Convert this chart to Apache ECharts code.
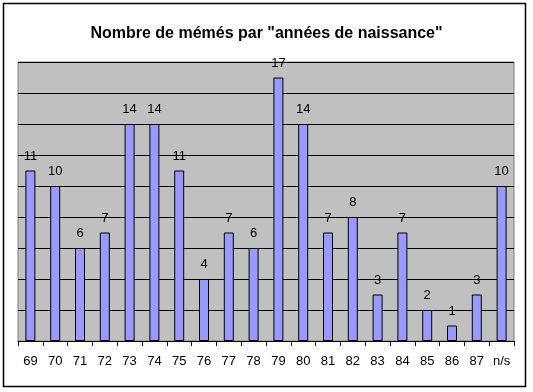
<!DOCTYPE html>
<html>
<head>
<meta charset="utf-8">
<script src="https://cdn.jsdelivr.net/npm/echarts@6/dist/echarts.min.js"></script>
<style>
html,body{margin:0;padding:0;background:#fff;}
#c{width:533px;height:392px;}
</style>
</head>
<body>
<div id="c"></div>
<script>
const titleText = 'Nombre de mémés par "années de naissance"';
const categories = ['69','70','71','72','73','74','75','76','77','78','79','80','81','82','83','84','85','86','87','n/s'];
const counts = [11,10,6,7,14,14,11,4,7,6,17,14,7,8,3,7,2,1,3,10];
const yMax = 18;
const yInterval = 2;

const chart = echarts.init(document.getElementById('c'));
chart.setOption({
  animation: false,
  backgroundColor: '#ffffff',
  title: {
    text: titleText,
    left: 'center',
    top: 21,
    textStyle: {fontFamily: 'Liberation Sans, Arial, sans-serif', fontSize: 16, fontWeight: 'bold', color: '#000'}
  },
  grid: {
    left: 18, right: 19, top: 62, bottom: 51,
    show: true, backgroundColor: '#c0c0c0', borderColor: '#808080', borderWidth: 1,
    containLabel: false
  },
  xAxis: {
    type: 'category',
    data: categories,
    boundaryGap: true,
    axisLine: {show: true, lineStyle: {color: '#000', width: 1}},
    axisTick: {show: true, length: 5, alignWithLabel: false, lineStyle: {color: '#000'}},
    axisLabel: {margin: 14, fontFamily: 'Liberation Sans, Arial, sans-serif', fontSize: 13, color: '#000'}
  },
  yAxis: {
    type: 'value',
    min: 0, max: yMax, interval: yInterval,
    axisLine: {show: false},
    axisTick: {show: false},
    axisLabel: {show: false},
    splitLine: {show: true, lineStyle: {color: '#000', width: 1}}
  },
  series: [{
    type: 'bar',
    data: counts,
    barWidth: 10,
    itemStyle: {color: '#9999ff', borderColor: '#000', borderWidth: 1},
    label: {show: true, position: 'top', distance: 8, fontFamily: 'Liberation Sans, Arial, sans-serif', fontSize: 13, color: '#000'}
  }],
  graphic: [{
    type: 'rect',
    shape: {x: 3.5, y: 3.5, width: 522, height: 383},
    style: {fill: 'none', stroke: '#000', lineWidth: 1.5},
    z: 100
  }]
});
</script>
</body>
</html>
